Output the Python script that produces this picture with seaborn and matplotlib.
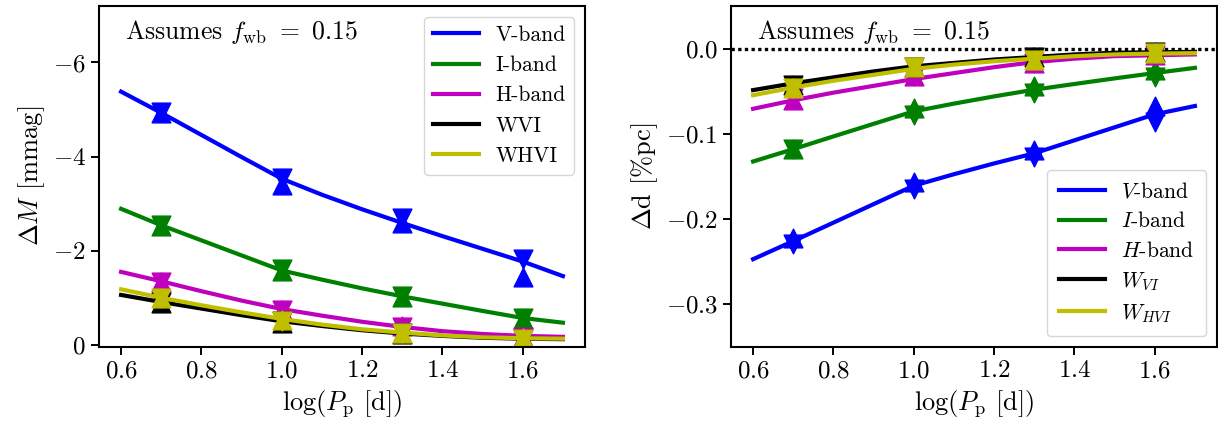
import numpy as np
import pandas as pd
import matplotlib
matplotlib.use("Agg")
import matplotlib.pyplot as plt
import seaborn as sns

# grid of log-period values along which the fitted curves are tabulated
log_p_curve = [0.6, 0.7, 0.8, 0.9, 1.0, 1.1, 1.2, 1.3, 1.4, 1.5, 1.6, 1.7]
# periods of the simulated samples
log_p_pts = [0.7, 1.0, 1.3, 1.6]

bands = ["V", "I", "H", "WVI", "WHVI"]
colors = ["b", "g", "m", "k", "y"]
labels_left = ["V-band", "I-band", "H-band", "WVI", "WHVI"]
labels_right = [r"$V$-band", r"$I$-band", r"$H$-band", r"$W_{VI}$", r"$W_{HVI}$"]

# magnitude offset curves [mmag]
dM_curve = {
    "V":    [-5.38, -4.93, -4.46, -3.99, -3.53, -3.19, -2.88, -2.59, -2.31, -2.04, -1.77, -1.46],
    "I":    [-2.89, -2.54, -2.22, -1.90, -1.58, -1.385, -1.20, -1.03, -0.875, -0.72, -0.57, -0.47],
    "H":    [-1.55, -1.35, -1.14, -0.94, -0.76, -0.62, -0.49, -0.38, -0.29, -0.23, -0.19, -0.17],
    "WVI":  [-1.06, -0.91, -0.77, -0.63, -0.50, -0.40, -0.31, -0.24, -0.19, -0.15, -0.13, -0.12],
    "WHVI": [-1.18, -1.00, -0.84, -0.69, -0.55, -0.43, -0.33, -0.26, -0.20, -0.16, -0.14, -0.13],
}
# magnitude offsets of the samples, two estimators [mmag]
dM_down = {
    "V":    [-4.95, -3.55, -2.70, -1.82],
    "I":    [-2.55, -1.61, -1.04, -0.58],
    "H":    [-1.33, -0.75, -0.38, -0.17],
    "WVI":  [-0.90, -0.50, -0.25, -0.13],
    "WHVI": [-0.99, -0.51, -0.25, -0.12],
}
dM_up = {
    "V":    [-4.92, -3.40, -2.59, -1.44],
    "I":    [-2.53, -1.56, -1.02, -0.55],
    "H":    [-1.33, -0.73, -0.39, -0.16],
    "WVI":  [-0.88, -0.46, -0.24, -0.12],
    "WHVI": [-0.99, -0.53, -0.26, -0.14],
}

# distance offset curves [%pc]
dd_curve = {
    "V":    [-0.247, -0.2257, -0.2040, -0.1822, -0.1605, -0.1470, -0.1343, -0.1224, -0.1071, -0.0918, -0.0765, -0.0667],
    "I":    [-0.132, -0.1175, -0.1025, -0.0877, -0.0730, -0.0639, -0.0554, -0.0475, -0.0408, -0.0342, -0.0279, -0.0218],
    "H":    [-0.070, -0.060, -0.051, -0.043, -0.035, -0.028, -0.021, -0.015, -0.011, -0.008, -0.007, -0.006],
    "WVI":  [-0.048, -0.040, -0.033, -0.026, -0.020, -0.016, -0.012, -0.009, -0.006, -0.004, -0.0035, -0.003],
    "WHVI": [-0.054, -0.045, -0.037, -0.030, -0.023, -0.018, -0.014, -0.011, -0.008, -0.006, -0.005, -0.0045],
}
dd_down = {
    "V":    [-0.2296, -0.1644, -0.1263, -0.0852],
    "I":    [-0.1175, -0.0770, -0.0515, -0.0320],
    "H":    [-0.0570, -0.0314, -0.0157, -0.0067],
    "WVI":  [-0.0420, -0.0212, -0.0090, -0.0030],
    "WHVI": [-0.0450, -0.0208, -0.0122, -0.0047],
}
dd_up = {
    "V":    [-0.2218, -0.1566, -0.1185, -0.0667],
    "I":    [-0.1175, -0.0690, -0.0435, -0.0240],
    "H":    [-0.0596, -0.0314, -0.0157, -0.0067],
    "WVI":  [-0.0420, -0.0212, -0.0090, -0.0030],
    "WHVI": [-0.0450, -0.0208, -0.0122, -0.0047],
}

plt.rcParams.update({
    "font.family": "serif",
    "font.serif": ["cmr10"],
    "mathtext.fontset": "cm",
    "axes.formatter.use_mathtext": True,
    "axes.unicode_minus": True,
    "axes.linewidth": 1.5,
    "xtick.major.size": 6,
    "ytick.major.size": 6,
    "xtick.major.width": 1.4,
    "ytick.major.width": 1.4,
    "xtick.labelsize": 18,
    "ytick.labelsize": 18,
    "axes.labelsize": 19,
})

fig = plt.figure(figsize=(12.18, 4.26), dpi=100)
ax1 = fig.add_axes([99 / 1218, 79.3 / 426, 486 / 1218, 340.7 / 426])
ax2 = fig.add_axes([731 / 1218, 79.3 / 426, 486 / 1218, 340.7 / 426])

LW = 3.0
MS = 13.5


def draw_panel(ax, curve, down, up, labels):
    for band, col, lab in zip(bands, colors, labels):
        sns.lineplot(x=log_p_curve, y=curve[band], color=col, lw=LW,
                     label=lab, ax=ax, zorder=2)
        sns.scatterplot(x=log_p_pts, y=down[band], marker="v", s=MS ** 2,
                        color=col, edgecolor=col, linewidth=1.0, ax=ax,
                        zorder=2, legend=False)
        sns.scatterplot(x=log_p_pts, y=up[band], marker="^", s=MS ** 2,
                        color=col, edgecolor=col, linewidth=1.0, ax=ax,
                        zorder=2, legend=False)
    ax.set_xlim(0.545, 1.755)
    ax.set_xticks([0.6, 0.8, 1.0, 1.2, 1.4, 1.6])
    ax.set_xlabel(r"$\log(P_{\rm p}$ [d]$)$")
    ax.text(0.053, 0.965, r"Assumes $f_{\rm wb}\ =\ 0.15$",
            transform=ax.transAxes, ha="left", va="top", fontsize=18.5)


draw_panel(ax1, dM_curve, dM_down, dM_up, labels_left)
ax1.set_ylim(0.04, -7.2)
ax1.set_yticks([0, -2, -4, -6])
ax1.set_ylabel(r"$\Delta M$ [mmag]")
ax1.legend(loc="upper right", fontsize=15.5, handlelength=2.15,
           handletextpad=0.75, labelspacing=0.5)

draw_panel(ax2, dd_curve, dd_down, dd_up, labels_right)
ax2.axhline(0.0, color="k", lw=2.4, ls=(0, (1, 1)), zorder=1)
ax2.set_ylim(-0.35, 0.051)
ax2.set_yticks([0.0, -0.1, -0.2, -0.3])
ax2.set_ylabel(r"$\Delta$d [%pc]")
ax2.legend(loc="lower right", fontsize=15.5, handlelength=2.15,
           handletextpad=0.75, labelspacing=0.45, borderpad=0.55)

fig.savefig("out.png", dpi=100)
